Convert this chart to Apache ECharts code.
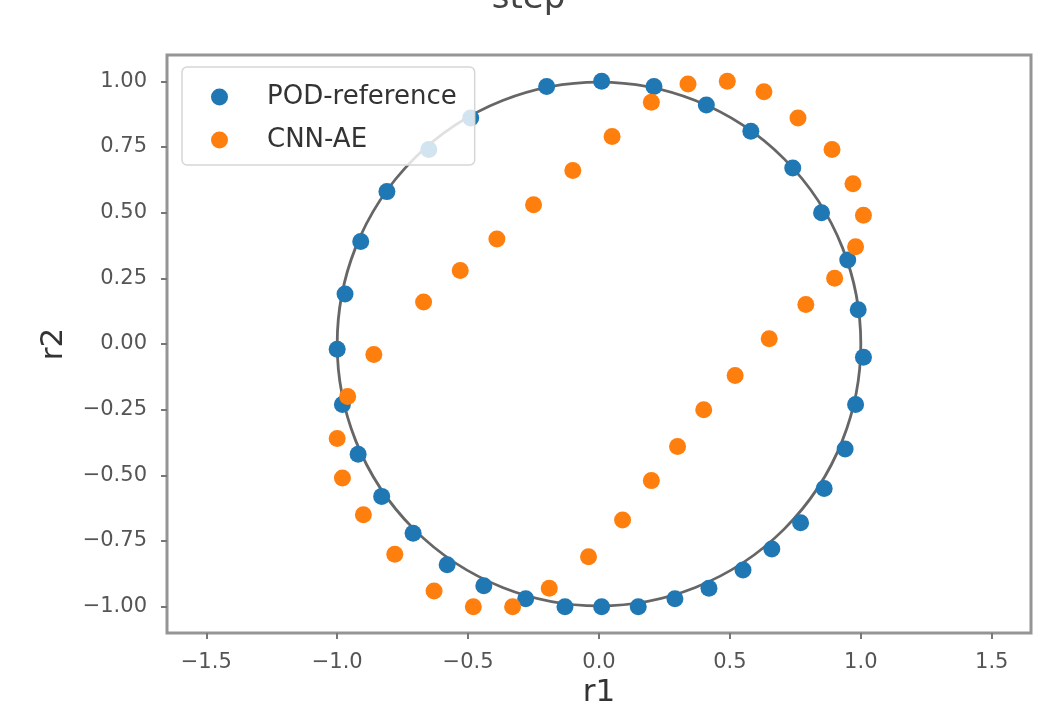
<!DOCTYPE html>
<html>
<head>
<meta charset="utf-8">
<script src="https://cdn.jsdelivr.net/npm/echarts@6/dist/echarts.min.js"></script>
<style>
  html, body { margin: 0; padding: 0; background: #fff; }
  #container { width: 1057px; height: 712px; }
</style>
</head>
<body>
<div id="container"></div>
<script>
// POD reference points (r1, r2)
const podR1 = [0.01, 0.21, 0.41, 0.58, 0.74, 0.85, 0.95, 0.99, 1.01, 0.98, 0.94, 0.86, 0.77, 0.66, 0.55, 0.42, 0.29,
    0.15, 0.01, -0.13, -0.28, -0.44, -0.58, -0.71, -0.83, -0.92, -0.98, -1.00, -0.97, -0.91, -0.81, -0.65, -0.49, -0.20];
const podR2 = [1.00, 0.98, 0.91, 0.81, 0.67, 0.50, 0.32, 0.13, -0.05, -0.23, -0.40, -0.55, -0.68, -0.78, -0.86, -0.93, -0.97,
    -1.00, -1.00, -1.00, -0.97, -0.92, -0.84, -0.72, -0.58, -0.42, -0.23, -0.02, 0.19, 0.39, 0.58, 0.74, 0.86, 0.98];

// CNN-AE points (r1, r2)
const aeR1 = [0.34, 0.49, 0.63, 0.76, 0.89, 0.97, 1.01, 0.98, 0.90, 0.79, 0.65, 0.52, 0.40, 0.30, 0.20, 0.09, -0.04,
    -0.19, -0.33, -0.48, -0.63, -0.78, -0.90, -0.98, -1.00, -0.96, -0.86, -0.67, -0.53, -0.39, -0.25, -0.10, 0.05, 0.20];
const aeR2 = [0.99, 1.00, 0.96, 0.86, 0.74, 0.61, 0.49, 0.37, 0.25, 0.15, 0.02, -0.12, -0.25, -0.39, -0.52, -0.67, -0.81,
    -0.93, -1.00, -1.00, -0.94, -0.80, -0.65, -0.51, -0.36, -0.20, -0.04, 0.16, 0.28, 0.40, 0.53, 0.66, 0.79, 0.92];

// unit circle: centre r1, centre r2, radius
const circle = [[0, 0, 1]];

const xTicks = [-1.5, -1.0, -0.5, 0.0, 0.5, 1.0, 1.5];
const yTicks = [-1.0, -0.75, -0.5, -0.25, 0.0, 0.25, 0.5, 0.75, 1.0];

const seriesNames = ['POD-reference', 'CNN-AE'];

function zip(a, b) {
    return a.map((v, i) => [v, b[i]]);
}

function fmt(v, digits) {
    return v.toFixed(digits).replace('-', '\u2212');
}

const dom = document.getElementById('container');
const myChart = echarts.init(dom, null, {renderer: 'canvas'});
const fontFamily = '"DejaVu Sans", sans-serif';

const option = {
    animation: false,
    backgroundColor: '#fff',
    title: {
        text: 'step',
        left: 'center',
        top: -23,
        textStyle: {fontFamily: fontFamily, fontSize: 34, fontWeight: 'normal', color: '#444'}
    },
    legend: {
        data: seriesNames,
        orient: 'vertical',
        left: 182,
        top: 67,
        padding: [15, 18, 10, 29],
        itemGap: 13,
        itemWidth: 17,
        itemHeight: 17,
        icon: 'circle',
        backgroundColor: 'rgba(255,255,255,0.8)',
        borderColor: '#d6d6d6',
        borderWidth: 1.5,
        borderRadius: 5,
        textStyle: {
            fontFamily: fontFamily,
            fontSize: 26,
            lineHeight: 30,
            color: '#333',
            padding: [0, 0, 0, 34]
        }
    },
    grid: {
        left: 167,
        top: 55,
        width: 864,
        height: 578,
        show: true,
        borderColor: '#959595',
        borderWidth: 3,
        outerBoundsMode: 'none'
    },
    xAxis: {
        type: 'value',
        min: -1.65,
        max: 1.65,
        name: 'r1',
        nameLocation: 'middle',
        nameGap: 34,
        nameTextStyle: {fontFamily: fontFamily, fontSize: 31, color: '#333'},
        axisLine: {show: false, onZero: false},
        splitLine: {show: false},
        axisTick: {show: true, length: 6, customValues: xTicks, lineStyle: {color: '#777', width: 2}},
        axisLabel: {
            customValues: xTicks,
            margin: 19,
            fontFamily: fontFamily,
            fontSize: 21,
            color: '#555',
            formatter: v => fmt(v, 1)
        }
    },
    yAxis: {
        type: 'value',
        min: -1.1,
        max: 1.1,
        name: 'r2',
        nameLocation: 'middle',
        nameGap: 98,
        nameTextStyle: {fontFamily: fontFamily, fontSize: 31, color: '#333'},
        axisLine: {show: false, onZero: false},
        splitLine: {show: false},
        axisTick: {show: true, length: 6, customValues: yTicks, lineStyle: {color: '#777', width: 2}},
        axisLabel: {
            customValues: yTicks,
            margin: 20,
            fontFamily: fontFamily,
            fontSize: 21,
            color: '#555',
            formatter: v => fmt(v, 2)
        }
    },
    series: [
        {
            name: seriesNames[0],
            type: 'scatter',
            symbol: 'circle',
            symbolSize: 17,
            itemStyle: {color: '#1f77b4', opacity: 1},
            data: zip(podR1, podR2)
        },
        {
            name: 'circle',
            type: 'custom',
            silent: true,
            clip: false,
            encode: {x: 0, y: 1},
            data: circle,
            renderItem: function (params, api) {
                const c = api.coord([api.value(0), api.value(1)]);
                const r = api.size([api.value(2), api.value(2)])[0];
                return {
                    type: 'circle',
                    shape: {cx: c[0], cy: c[1], r: r},
                    style: {fill: 'none', stroke: '#333', lineWidth: 2.8, opacity: 0.75}
                };
            }
        },
        {
            name: seriesNames[1],
            type: 'scatter',
            symbol: 'circle',
            symbolSize: 17,
            itemStyle: {color: '#ff7f0e', opacity: 1},
            data: zip(aeR1, aeR2)
        }
    ]
};

myChart.setOption(option);
</script>
</body>
</html>
